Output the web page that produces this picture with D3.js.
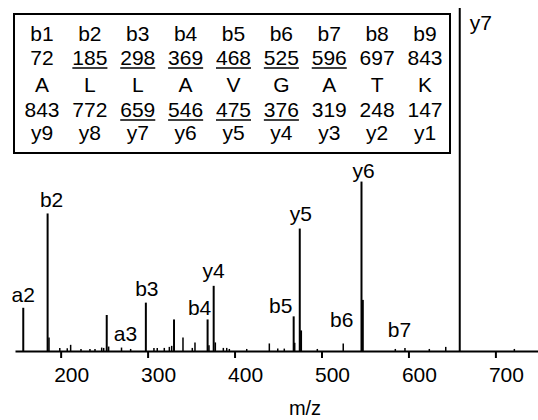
<!DOCTYPE html>
<html>
<head>
<meta charset="utf-8">
<script src="https://cdn.jsdelivr.net/npm/d3@7"></script>
<style>
  body { margin: 0; background: #fff; }
  text { font-family: "Liberation Sans", Arial, Helvetica, sans-serif; fill: #000; }
</style>
</head>
<body>
<svg id="spectrum"></svg>
<script>
const width = 538, height = 420;

// ---- data ----
// peak m/z and relative intensity (% of y7)
const peakMz = [157, 185, 186.6, 199, 207.6, 211.5, 223.4, 233.7, 239.5, 247.2, 249.5, 253, 255.2,
  270, 280.5, 298, 307.3, 311.1, 319.2, 325, 327.7, 330.4, 340.7, 351.4, 354.5, 369, 370.6,
  376, 377.9, 387.1, 391, 394, 414, 440, 449.7, 457.2, 468, 469.2, 475, 476.5, 495.2, 525,
  546, 547.5, 584.9, 596, 624, 642.9, 659, 721.8];
const peakInt = [12.6, 40.1, 3.9, 0.9, 0.8, 1.8, 0.6, 0.6, 0.6, 1.0, 0.9, 10.5, 1.3,
  1.0, 0.6, 14.1, 0.9, 0.9, 0.9, 1.2, 1.5, 9.2, 3.9, 0.9, 2.5, 9.2, 1.7,
  19.0, 2.5, 0.9, 0.9, 0.6, 0.6, 2.2, 0.7, 0.7, 10.1, 2.4, 35.7, 6.0, 0.6, 2.2,
  49.4, 14.9, 0.6, 0.9, 0.6, 1.2, 100, 0.6];

// labelled fragment peaks
const ionNames = ["a2", "b2", "a3", "b3", "b4", "y4", "b5", "y5", "b6", "y6", "b7", "y7"];
const ionMz = [157, 185, 270, 298, 369, 376, 468, 475, 525, 546, 596, 659];
const ionInt = [12.6, 40.1, 1.0, 14.1, 9.2, 19.0, 10.1, 35.7, 2.2, 49.4, 0.9, 100];

// fragment table
const bNames = ["b1", "b2", "b3", "b4", "b5", "b6", "b7", "b8", "b9"];
const bMass = [72, 185, 298, 369, 468, 525, 596, 697, 843];
const residues = ["A", "L", "L", "A", "V", "G", "A", "T", "K"];
const yMass = [843, 772, 659, 546, 475, 376, 319, 248, 147];
const yNames = ["y9", "y8", "y7", "y6", "y5", "y4", "y3", "y2", "y1"];
const bObserved = [false, true, true, true, true, true, true, false, false];
const yObserved = [false, false, true, true, true, true, false, false, false];

const xTicks = [200, 300, 400, 500, 600, 700];

// label nudges [dx, baseline offset from peak top]
const labelNudge = {
  a2: [0, -6], b2: [4, -6], a3: [4, -7], b3: [1, -7], b4: [-8, -4.5], y4: [0, -8],
  b5: [-13, -3.5], y5: [1, -7.5], b6: [-1.5, -16], y6: [2, -3.5], b7: [-5.5, -11], y7: [10, 22]
};

// ---- scales ----
const xScale = d3.scaleLinear().domain([147.5, 749]).range([15, 538]);
const yScale = d3.scaleLinear().domain([0, 100]).range([351, 8]);

const svg = d3.select("#spectrum")
  .attr("width", width)
  .attr("height", height);

// peaks
svg.append("g")
  .selectAll("line")
  .data(peakMz)
  .join("line")
  .attr("x1", d => xScale(d))
  .attr("x2", d => xScale(d))
  .attr("y1", yScale(0))
  .attr("y2", (d, i) => yScale(peakInt[i]))
  .attr("stroke", "#000")
  .attr("stroke-width", (d, i) => peakInt[i] > 5 ? 2 : 1.5);

// x axis
const xAxis = svg.append("g")
  .attr("transform", "translate(0," + yScale(0) + ")")
  .call(d3.axisBottom(xScale).tickValues(xTicks).tickSize(7).tickSizeOuter(0).tickFormat(d3.format("d")));
xAxis.select(".domain").attr("stroke-width", 2);
xAxis.selectAll(".tick line").attr("stroke-width", 2);
xAxis.selectAll(".tick text")
  .attr("x", 10.5)
  .attr("y", 31)
  .attr("dy", null)
  .style("font-size", "21px")
  .style("font-family", "'Liberation Sans', Arial, sans-serif");

svg.append("text")
  .attr("x", 305)
  .attr("y", 415)
  .attr("text-anchor", "middle")
  .style("font-size", "20px")
  .text("m/z");

// peak labels
svg.append("g")
  .selectAll("text")
  .data(ionNames)
  .join("text")
  .attr("x", (d, i) => xScale(ionMz[i]) + labelNudge[d][0])
  .attr("y", (d, i) => yScale(ionInt[i]) + labelNudge[d][1])
  .attr("text-anchor", d => d === "y7" ? "start" : "middle")
  .style("font-size", "21px")
  .text(d => d);

// ---- fragment table ----
const table = svg.append("g");
table.append("rect")
  .attr("x", 14).attr("y", 14)
  .attr("width", 436).attr("height", 139)
  .attr("fill", "#fff")
  .attr("stroke", "#000")
  .attr("stroke-width", 2);

const col = d3.scalePoint().domain(d3.range(9)).range([42, 425]);
const rows = [
  { vals: bNames, base: 40.5, under: null },
  { vals: bMass, base: 65, under: bObserved },
  { vals: residues, base: 91.5, under: null },
  { vals: yMass, base: 117, under: yObserved },
  { vals: yNames, base: 140, under: null }
];

rows.forEach(row => {
  const g = table.append("g");
  g.selectAll("text")
    .data(row.vals)
    .join("text")
    .attr("x", (d, i) => col(i))
    .attr("y", row.base)
    .attr("text-anchor", "middle")
    .style("font-size", "21px")
    .text(d => d)
    .each(function(d, i) {
      if (row.under && row.under[i]) {
        const bb = this.getBBox();
        g.append("line")
          .attr("x1", bb.x).attr("x2", bb.x + bb.width)
          .attr("y1", row.base + 3).attr("y2", row.base + 3)
          .attr("stroke", "#000")
          .attr("stroke-width", 1.5);
      }
    });
});
</script>
</body>
</html>
